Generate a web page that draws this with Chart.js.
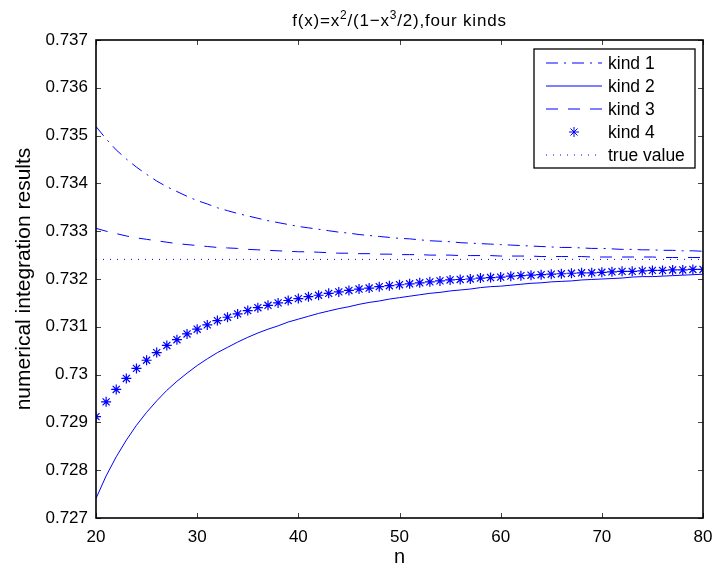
<!DOCTYPE html>
<html>
<head>
<meta charset="utf-8">
<script src="https://cdn.jsdelivr.net/npm/chart.js@4"></script>
<style>
  html, body { margin: 0; padding: 0; background: #fff; }
  #wrap { width: 716px; height: 569px; }
</style>
</head>
<body>
<div id="wrap"><canvas id="chart" width="716" height="569"></canvas></div>
<script>
// n 取值
const nValues = [20, 21, 22, 23, 24, 25, 26, 27, 28, 29, 30, 31, 32, 33, 34, 35, 36, 37, 38, 39, 40,
    41, 42, 43, 44, 45, 46, 47, 48, 49, 50, 51, 52, 53, 54, 55, 56, 57, 58, 59, 60,
    61, 62, 63, 64, 65, 66, 67, 68, 69, 70, 71, 72, 73, 74, 75, 76, 77, 78, 79, 80];

const kind1 = [0.73519, 0.73493, 0.73470, 0.73451, 0.73434, 0.73419, 0.73405, 0.73393, 0.73383, 0.73373,
    0.73364, 0.73357, 0.73349, 0.73343, 0.73337, 0.73332, 0.73327, 0.73322, 0.73318, 0.73314,
    0.73310, 0.73307, 0.73304, 0.73301, 0.73298, 0.73296, 0.73293, 0.73291, 0.73289, 0.73287,
    0.73285, 0.73284, 0.73282, 0.73280, 0.73279, 0.73278, 0.73276, 0.73275, 0.73274, 0.73273,
    0.73272, 0.73271, 0.73270, 0.73269, 0.73268, 0.73267, 0.73266, 0.73266, 0.73265, 0.73264,
    0.73264, 0.73263, 0.73262, 0.73262, 0.73261, 0.73261, 0.73260, 0.73260, 0.73259, 0.73259, 0.73258];

const kind2 = [0.72741, 0.72788, 0.72828, 0.72863, 0.72894, 0.72921, 0.72945, 0.72967, 0.72986, 0.73003,
    0.73019, 0.73033, 0.73046, 0.73057, 0.73068, 0.73078, 0.73087, 0.73095, 0.73102, 0.73110,
    0.73116, 0.73122, 0.73128, 0.73133, 0.73138, 0.73142, 0.73147, 0.73151, 0.73154, 0.73158,
    0.73161, 0.73164, 0.73167, 0.73170, 0.73172, 0.73175, 0.73177, 0.73179, 0.73182, 0.73184,
    0.73185, 0.73187, 0.73189, 0.73191, 0.73192, 0.73194, 0.73195, 0.73196, 0.73198, 0.73199,
    0.73200, 0.73201, 0.73202, 0.73204, 0.73205, 0.73205, 0.73206, 0.73207, 0.73208, 0.73209, 0.73210];

const kind3 = [0.73306, 0.73300, 0.73295, 0.73290, 0.73286, 0.73283, 0.73280, 0.73277, 0.73274, 0.73272,
    0.73270, 0.73268, 0.73266, 0.73265, 0.73264, 0.73262, 0.73261, 0.73260, 0.73259, 0.73258,
    0.73257, 0.73257, 0.73256, 0.73255, 0.73254, 0.73254, 0.73253, 0.73253, 0.73252, 0.73252,
    0.73251, 0.73251, 0.73251, 0.73250, 0.73250, 0.73250, 0.73249, 0.73249, 0.73249, 0.73249,
    0.73248, 0.73248, 0.73248, 0.73248, 0.73247, 0.73247, 0.73247, 0.73247, 0.73247, 0.73246,
    0.73246, 0.73246, 0.73246, 0.73246, 0.73246, 0.73246, 0.73245, 0.73245, 0.73245, 0.73245, 0.73245];

const kind4 = [0.72912, 0.72943, 0.72969, 0.72992, 0.73013, 0.73030, 0.73046, 0.73061, 0.73073, 0.73085,
    0.73095, 0.73104, 0.73113, 0.73120, 0.73127, 0.73134, 0.73140, 0.73145, 0.73150, 0.73155,
    0.73159, 0.73163, 0.73166, 0.73170, 0.73173, 0.73176, 0.73179, 0.73181, 0.73184, 0.73186,
    0.73188, 0.73190, 0.73192, 0.73194, 0.73196, 0.73198, 0.73199, 0.73200, 0.73202, 0.73203,
    0.73204, 0.73206, 0.73207, 0.73208, 0.73209, 0.73210, 0.73211, 0.73212, 0.73213, 0.73213,
    0.73214, 0.73215, 0.73216, 0.73216, 0.73217, 0.73218, 0.73218, 0.73219, 0.73219, 0.73220, 0.73220];

// 真值（水平线两端）
const trueX = [20, 80];
const trueY = [0.73241, 0.73241];

const seriesLabels = ['kind 1', 'kind 2', 'kind 3', 'kind 4', 'true value'];
const xTicks = [20, 30, 40, 50, 60, 70, 80];
const yTicks = [0.727, 0.728, 0.729, 0.73, 0.731, 0.732, 0.733, 0.734, 0.735, 0.736, 0.737];

const BLUE = '#0000ff';
const FONT = 'Liberation Sans, Arial, Helvetica, sans-serif';

function pts(xs, ys) {
    return xs.map((x, i) => ({ x: x, y: ys[i] }));
}

// 线型，图例里也用
const styles = [
    { dash: [12, 6, 2, 6], line: true },
    { dash: [], line: true },
    { dash: [12, 10], line: true },
    { dash: [], line: false },
    { dash: [1, 6], line: true }
];

// 边框、内向刻度、标题、图例
const matlabLook = {
    id: 'matlabLook',
    afterDraw(chart) {
        const ctx = chart.ctx;
        const a = chart.chartArea;
        const xs = chart.scales.x;
        const ys = chart.scales.y;
        ctx.save();

        // 刻度
        ctx.strokeStyle = '#444';
        ctx.lineWidth = 1;
        const tl = 5;
        xTicks.forEach(v => {
            const px = Math.round(xs.getPixelForValue(v)) + 0.5;
            ctx.beginPath();
            ctx.moveTo(px, a.bottom); ctx.lineTo(px, a.bottom - tl);
            ctx.moveTo(px, a.top); ctx.lineTo(px, a.top + tl);
            ctx.stroke();
        });
        yTicks.forEach(v => {
            const py = Math.round(ys.getPixelForValue(v)) + 0.5;
            ctx.beginPath();
            ctx.moveTo(a.left, py); ctx.lineTo(a.left + tl, py);
            ctx.moveTo(a.right, py); ctx.lineTo(a.right - tl, py);
            ctx.stroke();
        });

        // 边框
        ctx.strokeStyle = '#000';
        ctx.lineWidth = 1.6;
        ctx.strokeRect(a.left, a.top, a.right - a.left, a.bottom - a.top);

        // 标题（带上标）
        const parts = [
            ['f(x)=x', false], ['2', true], ['/(1\u2212x', false], ['3', true], ['/2),four kinds', false]
        ];
        const big = '17px ' + FONT;
        const small = '12px ' + FONT;
        ctx.letterSpacing = '0.8px';
        let w = 0;
        parts.forEach(p => { ctx.font = p[1] ? small : big; w += ctx.measureText(p[0]).width; });
        let tx = (a.left + a.right) / 2 - w / 2;
        const ty = 26;
        ctx.fillStyle = '#000';
        ctx.textAlign = 'left';
        ctx.textBaseline = 'alphabetic';
        parts.forEach(p => {
            ctx.font = p[1] ? small : big;
            ctx.fillText(p[0], tx, p[1] ? ty - 7 : ty);
            tx += ctx.measureText(p[0]).width;
        });
        ctx.letterSpacing = '0px';

        // 图例
        const lx = 534, ly = 49, lw = 161, lh = 119;
        ctx.fillStyle = '#fff';
        ctx.fillRect(lx, ly, lw, lh);
        ctx.strokeStyle = '#000';
        ctx.lineWidth = 1.3;
        ctx.strokeRect(lx, ly, lw, lh);
        ctx.font = '17.5px ' + FONT;
        ctx.textBaseline = 'middle';
        seriesLabels.forEach((label, i) => {
            const cy = ly + 14 + i * 23;
            const st = styles[i];
            ctx.strokeStyle = BLUE;
            ctx.lineWidth = 1;
            if (st.line) {
                ctx.setLineDash(st.dash);
                ctx.beginPath();
                ctx.moveTo(546, cy);
                ctx.lineTo(602, cy);
                ctx.stroke();
                ctx.setLineDash([]);
            } else {
                const cx = 574, r = 5;
                ctx.beginPath();
                ctx.moveTo(cx - r, cy); ctx.lineTo(cx + r, cy);
                ctx.moveTo(cx, cy - r); ctx.lineTo(cx, cy + r);
                const d = r * 0.707;
                ctx.moveTo(cx - d, cy - d); ctx.lineTo(cx + d, cy + d);
                ctx.moveTo(cx - d, cy + d); ctx.lineTo(cx + d, cy - d);
                ctx.stroke();
            }
            ctx.fillStyle = '#000';
            ctx.fillText(label, 608, cy + 1);
        });
        ctx.restore();
    }
};

new Chart(document.getElementById('chart'), {
    type: 'line',
    data: {
        datasets: [
            {
                label: seriesLabels[0], data: pts(nValues, kind1),
                borderColor: BLUE, borderWidth: 1, borderDash: styles[0].dash,
                pointRadius: 0, tension: 0
            },
            {
                label: seriesLabels[1], data: pts(nValues, kind2),
                borderColor: BLUE, borderWidth: 1,
                pointRadius: 0, tension: 0
            },
            {
                label: seriesLabels[2], data: pts(nValues, kind3),
                borderColor: BLUE, borderWidth: 1, borderDash: styles[2].dash,
                pointRadius: 0, tension: 0
            },
            {
                label: seriesLabels[3], data: pts(nValues, kind4),
                showLine: false, borderColor: BLUE, backgroundColor: BLUE,
                pointStyle: 'star', pointRadius: 5, pointBorderWidth: 1.2,
                pointBorderColor: BLUE
            },
            {
                label: seriesLabels[4], data: pts(trueX, trueY),
                borderColor: BLUE, borderWidth: 1, borderDash: styles[4].dash,
                pointRadius: 0
            }
        ]
    },
    options: {
        responsive: false,
        animation: false,
        layout: { padding: { top: 40, right: 13, left: 0, bottom: 0 } },
        plugins: {
            legend: { display: false },
            title: { display: false },
            tooltip: { enabled: false }
        },
        scales: {
            x: {
                type: 'linear',
                min: 20, max: 80,
                afterBuildTicks: (scale) => { scale.ticks = xTicks.map(v => ({ value: v })); },
                afterFit: (scale) => {
                    scale.height = 51;
                    scale.paddingLeft = 0;
                    scale.paddingRight = 0;
                },
                grid: { display: false, drawTicks: false },
                border: { display: false },
                ticks: {
                    color: '#000', padding: 9,
                    font: { family: FONT, size: 17 },
                    maxRotation: 0
                },
                title: {
                    display: true, text: 'n', color: '#000',
                    font: { family: FONT, size: 20 },
                    padding: { top: 0, bottom: 0 }
                }
            },
            y: {
                type: 'linear',
                min: 0.727, max: 0.737,
                afterBuildTicks: (scale) => { scale.ticks = yTicks.map(v => ({ value: v })); },
                afterFit: (scale) => {
                    scale.width = 96;
                    scale.paddingTop = 0;
                    scale.paddingBottom = 0;
                },
                grid: { display: false, drawTicks: false },
                border: { display: false },
                ticks: {
                    color: '#000', padding: 8,
                    font: { family: FONT, size: 17 },
                    callback: (v) => String(Number(v.toFixed(3)))
                },
                title: {
                    display: true, text: 'numerical integration results', color: '#000',
                    font: { family: FONT, size: 21 },
                    padding: { top: 12, bottom: 0 }
                }
            }
        }
    },
    plugins: [matlabLook]
});
</script>
</body>
</html>
